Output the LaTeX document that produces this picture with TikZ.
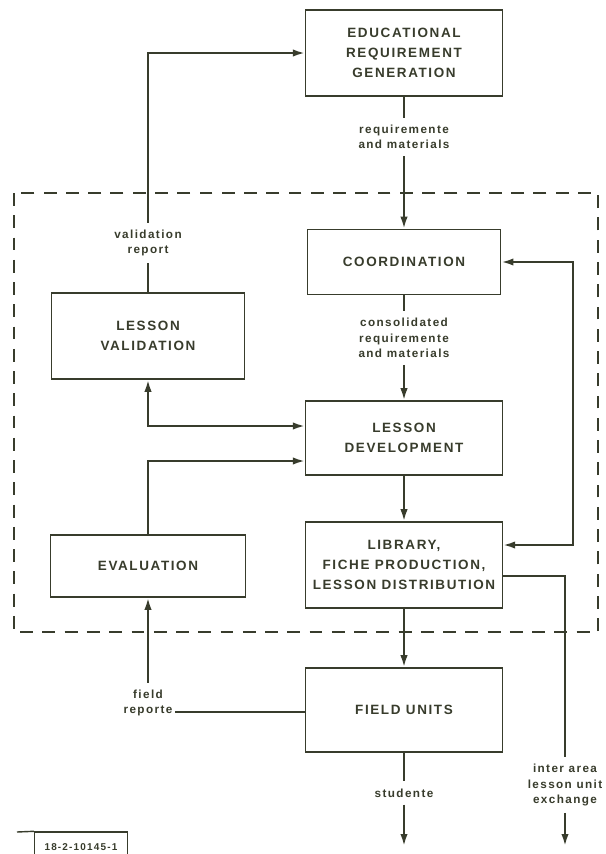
\documentclass[tikz,border=0pt]{standalone}
\usepackage{fontspec}
\usetikzlibrary{positioning,arrows.meta}

\newfontfamily\flowfont[LetterSpace=12]{Liberation Sans}
\definecolor{ink}{RGB}{56,60,44}

\tikzset{
  blk/.style={draw=ink, line width=1.3pt, align=center, text=ink, inner sep=2pt,
    font=\flowfont\bfseries\fontsize{11.5}{17}\selectfont, minimum width=5.9cm},
  lbl/.style={align=center, text=ink, inner xsep=2pt, inner ysep=6pt,
    font=\flowfont\bfseries\fontsize{10}{13}\selectfont},
  link/.style={draw=ink, line width=1.8pt},
  flow/.style={link, -{Latex[length=3.6mm,width=2.2mm]}},
  both/.style={link, {Latex[length=3.6mm,width=2.2mm]}-{Latex[length=3.6mm,width=2.2mm]}},
}

\begin{document}
\begin{tikzpicture}[x=0.03cm, y=-0.03cm]
    \useasboundingbox[fill=white] (0,0) rectangle (605,854);

    % boundary of the system
    \draw[ink, line width=1.1pt, dash pattern=on 11pt off 8pt] (14,193) rectangle (598,632);

    % blocks
    \node[blk, minimum height=2.58cm] (educ) at (404,53) {EDUCATIONAL\\REQUIREMENT\\GENERATION};
    \node[blk, minimum height=1.95cm, minimum width=5.8cm] (coord) at (404,262) {COORDINATION};
    \node[blk, minimum height=2.58cm, minimum width=5.78cm] (valid) at (148,336) {LESSON\\VALIDATION};
    \node[blk, minimum height=2.22cm] (dev) at (404,438) {LESSON\\DEVELOPMENT};
    \node[blk, minimum height=2.58cm] (lib) at (404,565) {LIBRARY,\\FICHE PRODUCTION,\\LESSON DISTRIBUTION};
    \node[blk, minimum height=1.86cm, minimum width=5.85cm] (eval) at (148,566) {EVALUATION};
    \node[blk, minimum height=2.52cm] (field) at (404,710) {FIELD UNITS};

    % labels on the connectors
    \node[lbl] (reqlbl) at (404,137) {requiremente\\and materials};
    \node[lbl] (vallbl) at (148,243) {validation\\report};
    \node[lbl] (conlbl) at (404,338) {consolidated\\requiremente\\and materials};
    \node[lbl] (fldlbl) at (148,703) {field\\reporte};
    \node[lbl] (stulbl) at (404,793) {studente};
    \node[lbl] (xchlbl) at (565,785) {inter area\\lesson unit\\exchange};

    \coordinate (rtop) at (573,262);
    \coordinate (rbot) at (573,545);
    \coordinate (xch) at (565,576);
    \coordinate (xchend) at (565,846);
    \coordinate (stuend) at (404,846);
    \coordinate (fldin) at ([yshift=-0.06cm]field.west);

    % connectors
    \draw[link] (educ) -- (reqlbl);
    \draw[flow] (reqlbl) -- (coord);
    \draw[link] (valid) -- (vallbl);
    \draw[flow] (vallbl) |- (educ);
    \draw[link] (coord) -- (conlbl);
    \draw[flow] (conlbl) -- (dev);
    \draw[both] (valid) |- ([yshift=0.36cm]dev.west);
    \draw[flow] (eval) |- ([yshift=-0.69cm]dev.west);
    \draw[flow] (dev) -- (lib);
    \draw[both] (coord.east) -- (rtop) -- (rbot) -- (lib.east |- rbot);
    \draw[link] (lib.east |- xch) -- (xch) -- (xchlbl);
    \draw[flow] (xchlbl) -- (xchend);
    \draw[flow] (lib) -- (field);
    \draw[link] (fldin) -- (fldlbl.east |- fldin);
    \draw[flow] (fldlbl) -- (eval);
    \draw[link] (field) -- (stulbl);
    \draw[flow] (stulbl) -- (stuend);

    % drawing number
    \node[draw=ink, line width=1.2pt, text=ink, minimum width=2.79cm, minimum height=0.9cm,
      font=\flowfont\bfseries\fontsize{8.5}{9}\selectfont] (tag) at (81,847) {18-2-10145-1};
    \coordinate (tagl) at (17,832);
    \draw[ink, line width=1.2pt] (tagl) -- (tag.north west);
\end{tikzpicture}
\end{document}
